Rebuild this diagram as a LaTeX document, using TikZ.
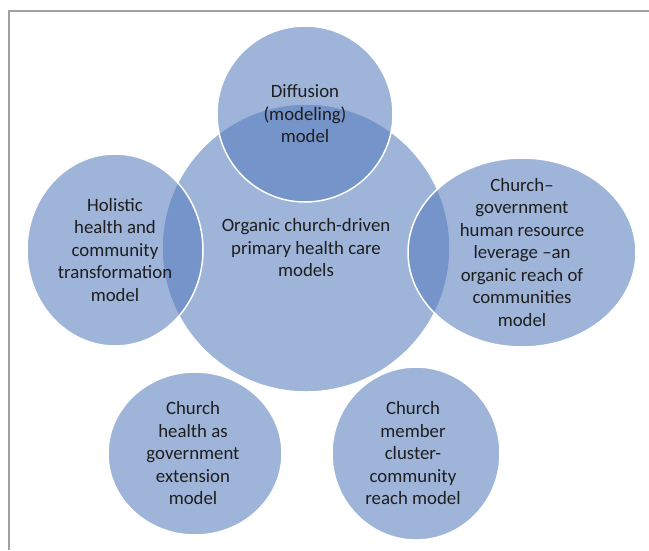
\documentclass[tikz,border=0pt]{standalone}
\usepackage{fontspec}
\setmainfont{Carlito}
\usetikzlibrary{shapes.geometric}
\definecolor{bubblefill}{RGB}{88,125,190}
\definecolor{framegray}{RGB}{160,160,160}
\definecolor{txt}{RGB}{30,30,30}
\begin{document}
\begin{tikzpicture}[x=1pt,y=-1pt,
  bubble/.style={ellipse, draw=white, line width=1.5pt, fill=bubblefill, fill opacity=0.58, inner sep=0pt, outer sep=0pt},
  lbl/.style={align=center, text=txt, font=\fontsize{18.8}{22.5}\selectfont, inner sep=0pt}]
\useasboundingbox (0,0) rectangle (649,550);
\coordinate (ftr) at (649,11);
\coordinate (fc) at (9,11);
\coordinate (fbl) at (9,550);
\draw[framegray, line width=1.2pt] (ftr) -- (fc) -- (fbl);

% central circle first
\node[bubble, minimum width=288pt, minimum height=288pt] (main) at (306,248) {};
% satellites
\node[bubble, minimum width=176pt, minimum height=176pt] (diff) at (305,114) {};
\node[bubble, minimum width=176pt, minimum height=192pt] (hol) at (115,250) {};
\node[bubble, minimum width=228pt, minimum height=189pt] (chg) at (522,252.5) {};
\node[bubble, minimum width=174pt, minimum height=163pt] (ext) at (195,453.5) {};
\node[bubble, minimum width=168pt, minimum height=173pt] (clu) at (416,453.5) {};

% labels
\node[lbl] (mainT) at (main) {Organic church-driven\\primary health care\\models};
\node[lbl] (diffT) at (diff) {Diffusion\\(modeling)\\model};
\node[lbl] (holT) at (hol) {Holistic\\health and\\community\\transformation\\model};
\node[lbl] (chgT) at (chg) {Church–\\government\\human resource\\leverage –an\\organic reach of\\communities\\model};
\node[lbl] (extT) at ([xshift=-2pt]ext.center) {Church\\health as\\government\\extension\\model};
\node[lbl] (cluT) at ([xshift=-3pt]clu.center) {Church\\member\\cluster-\\community\\reach model};
\end{tikzpicture}
\end{document}
